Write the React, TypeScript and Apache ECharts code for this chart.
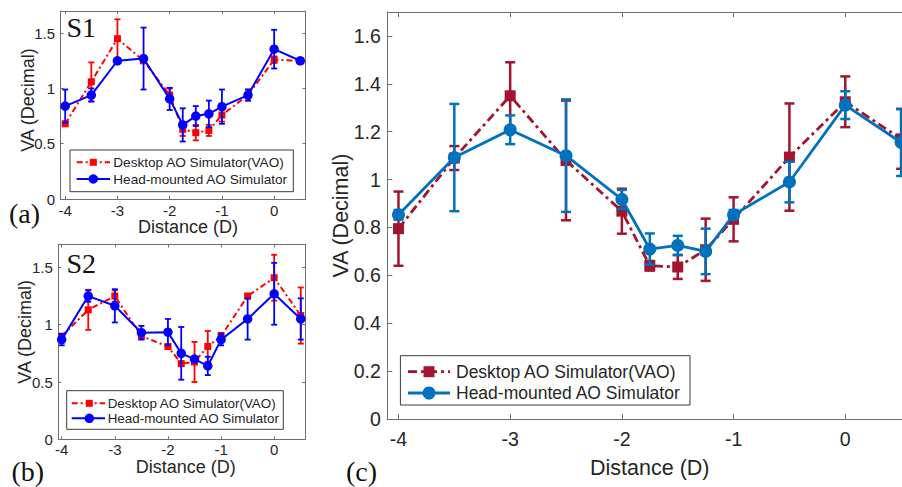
import React, { useEffect, useRef } from 'react';
import * as echarts from 'echarts';

// ---------------- data ----------------
const distances = [-4, -3.5, -3, -2.5, -2, -1.75, -1.5, -1.25, -1, -0.5, 0, 0.5];
const xTicks = [-4, -3, -2, -1, 0];
const yTicksSmall = [0, 0.5, 1, 1.5];
const yTicksLarge = [0, 0.2, 0.4, 0.6, 0.8, 1, 1.2, 1.4, 1.6];

const deskName = 'Desktop AO Simulator(VAO)';
const headName = 'Head-mounted AO Simulator';

// (a) S1
const s1Desktop = [0.68, 1.06, 1.45, 1.25, 0.94, 0.63, 0.6, 0.62, 0.76, 0.94, 1.26, 1.25];
const s1DesktopErr = [0.02, 0.175, 0.175, 0.02, 0.06, 0.06, 0.07, 0.05, 0.06, 0.05, 0.03, 0.02];
const s1Head = [0.84, 0.94, 1.25, 1.27, 0.905, 0.67, 0.75, 0.77, 0.835, 0.94, 1.355, 1.25];
const s1HeadErr = [0.15, 0.06, 0.02, 0.28, 0.1, 0.15, 0.09, 0.12, 0.155, 0.05, 0.175, 0.02];

// (b) S2
const s2Desktop = [0.9, 1.13, 1.25, 0.9, 0.81, 0.66, 0.675, 0.81, 0.9, 1.25, 1.41, 1.08];
const s2DesktopErr = [0.02, 0.175, 0.05, 0.02, 0.02, 0.02, 0.175, 0.135, 0.03, 0.02, 0.2, 0.245];
const s2Head = [0.87, 1.25, 1.165, 0.93, 0.935, 0.75, 0.7, 0.64, 0.87, 1.05, 1.27, 1.05];
const s2HeadErr = [0.05, 0.05, 0.145, 0.06, 0.115, 0.23, 0.02, 0.08, 0.05, 0.18, 0.27, 0.18];

// (c) average
const avgDesktop = [0.795, 1.09, 1.35, 1.08, 0.868, 0.64, 0.635, 0.707, 0.834, 1.094, 1.325, 1.17];
const avgDesktopErr = [0.155, 0.05, 0.14, 0.25, 0.094, 0.02, 0.05, 0.13, 0.092, 0.224, 0.106, 0.125];
const avgHead = [0.853, 1.092, 1.208, 1.1, 0.917, 0.71, 0.725, 0.7, 0.853, 0.99, 1.311, 1.155];
const avgHeadErr = [0.02, 0.224, 0.06, 0.235, 0.04, 0.065, 0.04, 0.095, 0.02, 0.085, 0.058, 0.14];

// ---------------- styles / layout ----------------
const SANS = 'Liberation Sans, Arial, Helvetica, sans-serif';
const SERIF = 'Liberation Serif, Times New Roman, serif';
const TEXT = '#262626';
const AXIS = '#6f6f6f';

const panels = [
  {
    grid: { left: 60.5, top: 11, width: 245, height: 188 },
    xMin: -4.09, xMax: 0.6, yMax: 1.7, yTicks: yTicksSmall,
    desk: s1Desktop, deskErr: s1DesktopErr, head: s1Head, headErr: s1HeadErr,
    red: '#ff0000', blue: '#0000ff',
    labelSize: 15, nameSize: 18, xLabelMargin: 3.5, yLabelMargin: 5.5,
    xNameGap: 19, yNameGap: 24, xNamePad: [0, 0, 0, 10], yNamePad: [0, 0, 0, 10],
    tickLen: 3, sq: 7, circ: 9.5, lw: 2, errW: 1.8, cap: 3, dash: [6, 3, 2, 3],
    legend: { x: 70, y: 150, w: 223.3, h: 41.7, lx1: 76.7, lx2: 110, mx: 93.3, tx: 113.3, r1: 162.3, r2: 179, font: 13.6 },
  },
  {
    grid: { left: 58.3, top: 244.5, width: 246.7, height: 194.8 },
    xMin: -4.064, xMax: 0.58, yMax: 1.7, yTicks: yTicksSmall,
    desk: s2Desktop, deskErr: s2DesktopErr, head: s2Head, headErr: s2HeadErr,
    red: '#ff0000', blue: '#0000ff',
    labelSize: 15, nameSize: 18, xLabelMargin: 2.5, yLabelMargin: 5.5,
    xNameGap: 18.5, yNameGap: 24, xNamePad: [0, 0, 0, 8], yNamePad: [0, 0, 0, 20],
    tickLen: 3, sq: 7, circ: 9.5, lw: 2, errW: 1.8, cap: 3, dash: [6, 3, 2, 3],
    legend: { x: 66.7, y: 390.7, w: 216.6, h: 38.6, lx1: 71.7, lx2: 105, mx: 89.3, tx: 107.7, r1: 403.3, r2: 418.3, font: 13.4 },
  },
  {
    grid: { left: 387.3, top: 12, width: 525, height: 407 },
    xMin: -4.1, xMax: 0.6, yMax: 1.7, yTicks: yTicksLarge,
    desk: avgDesktop, deskErr: avgDesktopErr, head: avgHead, headErr: avgHeadErr,
    red: '#A2142F', blue: '#0072BD',
    labelSize: 19.5, nameSize: 21.5, xLabelMargin: 10, yLabelMargin: 6.5,
    xNameGap: 38, yNameGap: 35.5, xNamePad: [0, 0, 0, 0], yNamePad: [0, 0, 0, 0],
    tickLen: 5, sq: 11, circ: 13, lw: 2.8, errW: 2.5, cap: 5, dash: [9, 4, 3, 4],
    legend: { x: 400.4, y: 355.7, w: 289.6, h: 49.3, lx1: 408, lx2: 450, mx: 429, tx: 456, r1: 371.7, r2: 393, font: 17.5 },
  },
];

const panelLabels = [
  { text: 'S1', x: 66.5, y: 27.5 },
  { text: 'S2', x: 66.5, y: 263 },
  { text: '(a)', x: 9, y: 213 },
  { text: '(b)', x: 11.5, y: 471 },
  { text: '(c)', x: 346, y: 471 },
];

function errRender(cap: number, width: number, color: string) {
  return (_params: any, api: any) => {
    const x = api.value(0);
    const lo = api.coord([x, api.value(1)]);
    const hi = api.coord([x, api.value(2)]);
    const st = { stroke: color, lineWidth: width };
    return {
      type: 'group',
      children: [
        { type: 'line', shape: { x1: lo[0], y1: lo[1], x2: hi[0], y2: hi[1] }, style: st },
        { type: 'line', shape: { x1: lo[0] - cap, y1: lo[1], x2: lo[0] + cap, y2: lo[1] }, style: st },
        { type: 'line', shape: { x1: hi[0] - cap, y1: hi[1], x2: hi[0] + cap, y2: hi[1] }, style: st },
      ],
    };
  };
}

function buildOption() {
  const grid: any[] = [];
  const xAxis: any[] = [];
  const yAxis: any[] = [];
  const series: any[] = [];
  const graphic: any[] = [];

  panels.forEach((p, i) => {
    grid.push({ ...p.grid, containLabel: false, outerBoundsMode: 'none' });
    const axisLine = { show: true, onZero: false, lineStyle: { color: AXIS, width: 1 } };
    const tickBase = { show: true, inside: true, length: p.tickLen, lineStyle: { color: AXIS, width: 1 } };
    xAxis.push({
      type: 'value', gridIndex: i, position: 'bottom', min: p.xMin, max: p.xMax,
      name: 'Distance (D)', nameLocation: 'middle', nameGap: p.xNameGap, nameMoveOverlap: false,
      nameTextStyle: { fontFamily: SANS, fontSize: p.nameSize, color: TEXT, padding: p.xNamePad },
      axisLine, splitLine: { show: false },
      axisTick: { ...tickBase, customValues: xTicks },
      axisLabel: { customValues: xTicks, margin: p.xLabelMargin, fontFamily: SANS, fontSize: p.labelSize, color: TEXT },
    });
    xAxis.push({
      type: 'value', gridIndex: i, position: 'top', min: p.xMin, max: p.xMax,
      axisLine, splitLine: { show: false },
      axisTick: { ...tickBase, customValues: xTicks },
      axisLabel: { show: false },
    });
    yAxis.push({
      type: 'value', gridIndex: i, position: 'left', min: 0, max: p.yMax,
      name: 'VA (Decimal)', nameLocation: 'middle', nameGap: p.yNameGap, nameMoveOverlap: false,
      nameTextStyle: { fontFamily: SANS, fontSize: p.nameSize, color: TEXT, padding: p.yNamePad },
      axisLine, splitLine: { show: false },
      axisTick: { ...tickBase, customValues: p.yTicks },
      axisLabel: { customValues: p.yTicks, margin: p.yLabelMargin, fontFamily: SANS, fontSize: p.labelSize, color: TEXT },
    });
    yAxis.push({
      type: 'value', gridIndex: i, position: 'right', min: 0, max: p.yMax,
      axisLine, splitLine: { show: false },
      axisTick: { ...tickBase, customValues: p.yTicks },
      axisLabel: { show: false },
    });

    const xi = 2 * i;
    const yi = 2 * i;
    series.push({
      type: 'custom', name: deskName, xAxisIndex: xi, yAxisIndex: yi, z: 2,
      data: distances.map((x, k) => [x, p.desk[k] - p.deskErr[k], p.desk[k] + p.deskErr[k]]),
      encode: { x: 0, y: [1, 2] },
      renderItem: errRender(p.cap, p.errW, p.red),
    });
    series.push({
      type: 'line', name: deskName, xAxisIndex: xi, yAxisIndex: yi, z: 3,
      data: distances.map((x, k) => [x, p.desk[k]]),
      symbol: 'rect', symbolSize: p.sq, showSymbol: true,
      itemStyle: { color: p.red },
      lineStyle: { color: p.red, width: p.lw, type: p.dash },
    });
    series.push({
      type: 'custom', name: headName, xAxisIndex: xi, yAxisIndex: yi, z: 4,
      data: distances.map((x, k) => [x, p.head[k] - p.headErr[k], p.head[k] + p.headErr[k]]),
      encode: { x: 0, y: [1, 2] },
      renderItem: errRender(p.cap, p.errW, p.blue),
    });
    series.push({
      type: 'line', name: headName, xAxisIndex: xi, yAxisIndex: yi, z: 5,
      data: distances.map((x, k) => [x, p.head[k]]),
      symbol: 'circle', symbolSize: p.circ, showSymbol: true,
      itemStyle: { color: p.blue },
      lineStyle: { color: p.blue, width: p.lw, type: 'solid' },
    });

    const L = p.legend;
    const font = { fontFamily: SANS, fontSize: L.font, fill: TEXT, verticalAlign: 'middle', align: 'left' };
    graphic.push({
      type: 'group', z: 100,
      children: [
        { type: 'rect', shape: { x: L.x, y: L.y, width: L.w, height: L.h }, style: { fill: '#ffffff', stroke: '#3a3a3a', lineWidth: 1 } },
        { type: 'line', shape: { x1: L.lx1, y1: L.r1, x2: L.lx2, y2: L.r1 }, style: { stroke: p.red, lineWidth: p.lw, lineDash: p.dash } },
        { type: 'rect', shape: { x: L.mx - p.sq / 2, y: L.r1 - p.sq / 2, width: p.sq, height: p.sq }, style: { fill: p.red } },
        { type: 'text', x: L.tx, y: L.r1, style: { ...font, text: deskName } },
        { type: 'line', shape: { x1: L.lx1, y1: L.r2, x2: L.lx2, y2: L.r2 }, style: { stroke: p.blue, lineWidth: p.lw } },
        { type: 'circle', shape: { cx: L.mx, cy: L.r2, r: p.circ / 2 }, style: { fill: p.blue } },
        { type: 'text', x: L.tx, y: L.r2, style: { ...font, text: headName } },
      ],
    });
  });

  panelLabels.forEach((l) => {
    graphic.push({
      type: 'text', x: l.x, y: l.y, z: 100,
      style: { text: l.text, fontFamily: SERIF, fontSize: 28, fill: '#111111', verticalAlign: 'middle', align: 'left' },
    });
  });

  return {
    animation: false,
    backgroundColor: '#ffffff',
    grid, xAxis, yAxis, series, graphic,
  };
}

export default function App() {
  const ref = useRef<HTMLDivElement>(null);
  useEffect(() => {
    if (!ref.current) return;
    const chart = echarts.init(ref.current, undefined, { renderer: 'svg' });
    chart.setOption(buildOption() as any);
    return () => chart.dispose();
  }, []);
  return (
    <div
      ref={ref}
      style={{ position: 'absolute', left: 0, top: 0, width: 902, height: 487, background: '#fff' }}
    />
  );
}
